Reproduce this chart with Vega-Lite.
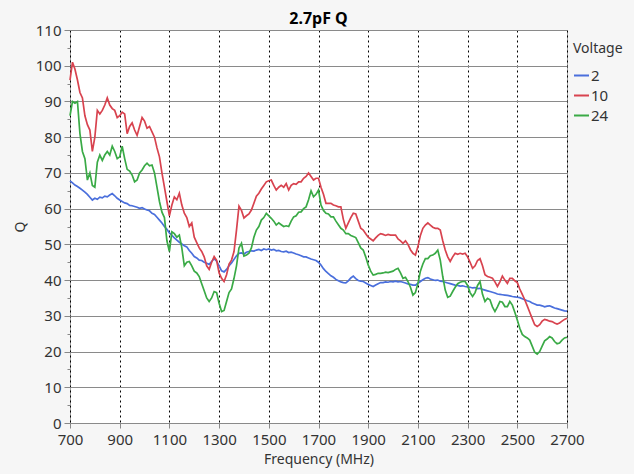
{
"$schema":"https://vega.github.io/schema/vega-lite/v6.json",
"width":497,"height":393,
"autosize":{"type":"none"},
"padding":{"left":70,"top":30,"right":67,"bottom":51},
"background":"#f6f6f6",
"title":{"text":"2.7pF Q","fontSize":16,"fontWeight":"bold","color":"#000000","offset":-4,"anchor":"middle","font":"Noto Sans"},
"data":{"values":[
{"f":700,"V":"2","Q":67.8},{"f":710,"V":"2","Q":67.2},{"f":720,"V":"2","Q":66.6},{"f":730,"V":"2","Q":66.2},{"f":740,"V":"2","Q":65.7},{"f":750,"V":"2","Q":65.2},{"f":760,"V":"2","Q":64.6},{"f":770,"V":"2","Q":64.0},{"f":780,"V":"2","Q":63.2},{"f":790,"V":"2","Q":62.4},
{"f":800,"V":"2","Q":62.9},{"f":810,"V":"2","Q":62.6},{"f":820,"V":"2","Q":63.2},{"f":830,"V":"2","Q":63.0},{"f":840,"V":"2","Q":63.5},{"f":850,"V":"2","Q":63.3},{"f":860,"V":"2","Q":63.8},{"f":870,"V":"2","Q":64.2},{"f":880,"V":"2","Q":63.6},{"f":890,"V":"2","Q":62.9},
{"f":900,"V":"2","Q":62.4},{"f":910,"V":"2","Q":62.0},{"f":920,"V":"2","Q":61.6},{"f":930,"V":"2","Q":61.4},{"f":940,"V":"2","Q":60.9},{"f":950,"V":"2","Q":60.8},{"f":960,"V":"2","Q":60.6},{"f":970,"V":"2","Q":60.4},{"f":980,"V":"2","Q":60.1},{"f":990,"V":"2","Q":60.3},
{"f":1000,"V":"2","Q":59.9},{"f":1010,"V":"2","Q":59.6},{"f":1020,"V":"2","Q":59.4},{"f":1030,"V":"2","Q":58.7},{"f":1040,"V":"2","Q":58.4},{"f":1050,"V":"2","Q":57.6},{"f":1060,"V":"2","Q":56.8},{"f":1070,"V":"2","Q":56.0},{"f":1080,"V":"2","Q":55.0},{"f":1090,"V":"2","Q":54.2},
{"f":1100,"V":"2","Q":53.2},{"f":1110,"V":"2","Q":52.5},{"f":1120,"V":"2","Q":51.8},{"f":1130,"V":"2","Q":51.2},{"f":1140,"V":"2","Q":50.6},{"f":1150,"V":"2","Q":50.1},{"f":1160,"V":"2","Q":49.6},{"f":1170,"V":"2","Q":49.3},{"f":1180,"V":"2","Q":48.3},{"f":1190,"V":"2","Q":47.5},
{"f":1200,"V":"2","Q":46.6},{"f":1210,"V":"2","Q":46.2},{"f":1220,"V":"2","Q":45.6},{"f":1230,"V":"2","Q":45.5},{"f":1240,"V":"2","Q":45.0},{"f":1250,"V":"2","Q":44.7},{"f":1260,"V":"2","Q":44.4},{"f":1270,"V":"2","Q":45.2},{"f":1280,"V":"2","Q":46.0},{"f":1290,"V":"2","Q":45.3},
{"f":1300,"V":"2","Q":44.0},{"f":1310,"V":"2","Q":42.6},{"f":1320,"V":"2","Q":42.3},{"f":1330,"V":"2","Q":43.0},{"f":1340,"V":"2","Q":44.0},{"f":1350,"V":"2","Q":44.8},{"f":1360,"V":"2","Q":45.8},{"f":1370,"V":"2","Q":46.8},{"f":1380,"V":"2","Q":47.5},{"f":1390,"V":"2","Q":47.6},
{"f":1400,"V":"2","Q":47.3},{"f":1410,"V":"2","Q":47.8},{"f":1420,"V":"2","Q":48.0},{"f":1430,"V":"2","Q":48.2},{"f":1440,"V":"2","Q":48.1},{"f":1450,"V":"2","Q":48.4},{"f":1460,"V":"2","Q":48.6},{"f":1470,"V":"2","Q":48.3},{"f":1480,"V":"2","Q":48.7},{"f":1490,"V":"2","Q":48.5},
{"f":1500,"V":"2","Q":48.7},{"f":1510,"V":"2","Q":48.4},{"f":1520,"V":"2","Q":48.6},{"f":1530,"V":"2","Q":48.2},{"f":1540,"V":"2","Q":48.3},{"f":1550,"V":"2","Q":48.0},{"f":1560,"V":"2","Q":47.9},{"f":1570,"V":"2","Q":48.1},{"f":1580,"V":"2","Q":47.7},{"f":1590,"V":"2","Q":47.8},
{"f":1600,"V":"2","Q":47.6},{"f":1610,"V":"2","Q":47.3},{"f":1620,"V":"2","Q":47.1},{"f":1630,"V":"2","Q":46.8},{"f":1640,"V":"2","Q":46.5},{"f":1650,"V":"2","Q":46.5},{"f":1660,"V":"2","Q":46.2},{"f":1670,"V":"2","Q":45.9},{"f":1680,"V":"2","Q":45.7},{"f":1690,"V":"2","Q":45.5},
{"f":1700,"V":"2","Q":45.0},{"f":1710,"V":"2","Q":44.2},{"f":1720,"V":"2","Q":43.2},{"f":1730,"V":"2","Q":42.4},{"f":1740,"V":"2","Q":41.8},{"f":1750,"V":"2","Q":41.2},{"f":1760,"V":"2","Q":40.8},{"f":1770,"V":"2","Q":40.2},{"f":1780,"V":"2","Q":39.8},{"f":1790,"V":"2","Q":39.5},
{"f":1800,"V":"2","Q":39.3},{"f":1810,"V":"2","Q":39.2},{"f":1820,"V":"2","Q":39.8},{"f":1830,"V":"2","Q":40.6},{"f":1840,"V":"2","Q":41.1},{"f":1850,"V":"2","Q":40.4},{"f":1860,"V":"2","Q":39.9},{"f":1870,"V":"2","Q":39.7},{"f":1880,"V":"2","Q":39.6},{"f":1890,"V":"2","Q":39.2},
{"f":1900,"V":"2","Q":38.8},{"f":1910,"V":"2","Q":38.5},{"f":1920,"V":"2","Q":38.2},{"f":1930,"V":"2","Q":38.6},{"f":1940,"V":"2","Q":39.0},{"f":1950,"V":"2","Q":39.3},{"f":1960,"V":"2","Q":39.3},{"f":1970,"V":"2","Q":39.5},{"f":1980,"V":"2","Q":39.4},{"f":1990,"V":"2","Q":39.6},
{"f":2000,"V":"2","Q":39.5},{"f":2010,"V":"2","Q":39.7},{"f":2020,"V":"2","Q":39.5},{"f":2030,"V":"2","Q":39.6},{"f":2040,"V":"2","Q":39.4},{"f":2050,"V":"2","Q":39.2},{"f":2060,"V":"2","Q":38.9},{"f":2070,"V":"2","Q":38.8},{"f":2080,"V":"2","Q":38.6},{"f":2090,"V":"2","Q":38.6},
{"f":2100,"V":"2","Q":39.1},{"f":2110,"V":"2","Q":39.6},{"f":2120,"V":"2","Q":40.1},{"f":2130,"V":"2","Q":40.5},{"f":2140,"V":"2","Q":40.7},{"f":2150,"V":"2","Q":40.3},{"f":2160,"V":"2","Q":40.1},{"f":2170,"V":"2","Q":39.9},{"f":2180,"V":"2","Q":40.0},{"f":2190,"V":"2","Q":39.7},
{"f":2200,"V":"2","Q":39.6},{"f":2210,"V":"2","Q":39.4},{"f":2220,"V":"2","Q":39.2},{"f":2230,"V":"2","Q":39.0},{"f":2240,"V":"2","Q":38.8},{"f":2250,"V":"2","Q":38.6},{"f":2260,"V":"2","Q":38.5},{"f":2270,"V":"2","Q":38.3},{"f":2280,"V":"2","Q":38.4},{"f":2290,"V":"2","Q":38.2},
{"f":2300,"V":"2","Q":38.1},{"f":2310,"V":"2","Q":38.0},{"f":2320,"V":"2","Q":37.8},{"f":2330,"V":"2","Q":37.9},{"f":2340,"V":"2","Q":37.6},{"f":2350,"V":"2","Q":37.7},{"f":2360,"V":"2","Q":37.4},{"f":2370,"V":"2","Q":37.2},{"f":2380,"V":"2","Q":37.0},{"f":2390,"V":"2","Q":36.8},
{"f":2400,"V":"2","Q":36.6},{"f":2410,"V":"2","Q":36.4},{"f":2420,"V":"2","Q":36.1},{"f":2430,"V":"2","Q":36.0},{"f":2440,"V":"2","Q":35.9},{"f":2450,"V":"2","Q":35.8},{"f":2460,"V":"2","Q":35.7},{"f":2470,"V":"2","Q":35.6},{"f":2480,"V":"2","Q":35.4},{"f":2490,"V":"2","Q":35.3},
{"f":2500,"V":"2","Q":35.2},{"f":2510,"V":"2","Q":35.1},{"f":2520,"V":"2","Q":34.8},{"f":2530,"V":"2","Q":34.5},{"f":2540,"V":"2","Q":34.2},{"f":2550,"V":"2","Q":34.0},{"f":2560,"V":"2","Q":33.6},{"f":2570,"V":"2","Q":33.3},{"f":2580,"V":"2","Q":33.0},{"f":2590,"V":"2","Q":33.0},
{"f":2600,"V":"2","Q":32.8},{"f":2610,"V":"2","Q":32.5},{"f":2620,"V":"2","Q":32.7},{"f":2630,"V":"2","Q":32.8},{"f":2640,"V":"2","Q":32.5},{"f":2650,"V":"2","Q":32.2},{"f":2660,"V":"2","Q":32.0},{"f":2670,"V":"2","Q":31.8},{"f":2680,"V":"2","Q":31.6},{"f":2690,"V":"2","Q":31.4},{"f":2700,"V":"2","Q":31.3},
{"f":700,"V":"10","Q":96},{"f":710,"V":"10","Q":101},{"f":720,"V":"10","Q":99},{"f":730,"V":"10","Q":96},{"f":740,"V":"10","Q":92.5},{"f":750,"V":"10","Q":91},{"f":760,"V":"10","Q":86},{"f":770,"V":"10","Q":83.5},{"f":780,"V":"10","Q":82},{"f":790,"V":"10","Q":76},
{"f":800,"V":"10","Q":80},{"f":810,"V":"10","Q":87.5},{"f":820,"V":"10","Q":86.5},{"f":830,"V":"10","Q":87.5},{"f":840,"V":"10","Q":89},{"f":850,"V":"10","Q":91},{"f":860,"V":"10","Q":89},{"f":870,"V":"10","Q":88},{"f":880,"V":"10","Q":87.5},{"f":890,"V":"10","Q":85.5},
{"f":900,"V":"10","Q":86},{"f":910,"V":"10","Q":87},{"f":920,"V":"10","Q":86.5},{"f":930,"V":"10","Q":81},{"f":940,"V":"10","Q":83},{"f":950,"V":"10","Q":84},{"f":960,"V":"10","Q":82},{"f":970,"V":"10","Q":80.5},{"f":980,"V":"10","Q":83},{"f":990,"V":"10","Q":85.5},
{"f":1000,"V":"10","Q":84.5},{"f":1010,"V":"10","Q":82.5},{"f":1020,"V":"10","Q":83},{"f":1030,"V":"10","Q":81.5},{"f":1040,"V":"10","Q":80},{"f":1050,"V":"10","Q":77},{"f":1060,"V":"10","Q":74.5},{"f":1070,"V":"10","Q":70},{"f":1080,"V":"10","Q":66},{"f":1090,"V":"10","Q":62},
{"f":1100,"V":"10","Q":58},{"f":1110,"V":"10","Q":61},{"f":1120,"V":"10","Q":63.3},{"f":1130,"V":"10","Q":62.5},{"f":1140,"V":"10","Q":64.3},{"f":1150,"V":"10","Q":61},{"f":1160,"V":"10","Q":58.7},{"f":1170,"V":"10","Q":57.5},{"f":1180,"V":"10","Q":55},{"f":1190,"V":"10","Q":56},
{"f":1200,"V":"10","Q":52},{"f":1210,"V":"10","Q":50.5},{"f":1220,"V":"10","Q":49},{"f":1230,"V":"10","Q":48},{"f":1240,"V":"10","Q":46.5},{"f":1250,"V":"10","Q":44},{"f":1260,"V":"10","Q":43},{"f":1270,"V":"10","Q":45},{"f":1280,"V":"10","Q":46.6},{"f":1290,"V":"10","Q":45.5},
{"f":1300,"V":"10","Q":42},{"f":1310,"V":"10","Q":40.5},{"f":1320,"V":"10","Q":39.6},{"f":1330,"V":"10","Q":41.5},{"f":1340,"V":"10","Q":44.5},{"f":1350,"V":"10","Q":45.6},{"f":1360,"V":"10","Q":48},{"f":1370,"V":"10","Q":54},{"f":1380,"V":"10","Q":60.7},{"f":1390,"V":"10","Q":59.5},
{"f":1400,"V":"10","Q":57.4},{"f":1410,"V":"10","Q":58},{"f":1420,"V":"10","Q":58.5},{"f":1430,"V":"10","Q":59.6},{"f":1440,"V":"10","Q":61.5},{"f":1450,"V":"10","Q":63.5},{"f":1460,"V":"10","Q":64.3},{"f":1470,"V":"10","Q":65.5},{"f":1480,"V":"10","Q":66.5},{"f":1490,"V":"10","Q":67.5},
{"f":1500,"V":"10","Q":67.8},{"f":1510,"V":"10","Q":68},{"f":1520,"V":"10","Q":66.5},{"f":1530,"V":"10","Q":65.2},{"f":1540,"V":"10","Q":66},{"f":1550,"V":"10","Q":66.5},{"f":1560,"V":"10","Q":66},{"f":1570,"V":"10","Q":67},{"f":1580,"V":"10","Q":65.2},{"f":1590,"V":"10","Q":66.5},
{"f":1600,"V":"10","Q":67},{"f":1610,"V":"10","Q":66.8},{"f":1620,"V":"10","Q":67.5},{"f":1630,"V":"10","Q":67.5},{"f":1640,"V":"10","Q":68.5},{"f":1650,"V":"10","Q":69},{"f":1660,"V":"10","Q":70},{"f":1670,"V":"10","Q":69},{"f":1680,"V":"10","Q":68},{"f":1690,"V":"10","Q":68.5},
{"f":1700,"V":"10","Q":68.5},{"f":1710,"V":"10","Q":66},{"f":1720,"V":"10","Q":64},{"f":1730,"V":"10","Q":61.5},{"f":1740,"V":"10","Q":61.5},{"f":1750,"V":"10","Q":61.5},{"f":1760,"V":"10","Q":61},{"f":1770,"V":"10","Q":60.8},{"f":1780,"V":"10","Q":60.5},{"f":1790,"V":"10","Q":60.5},
{"f":1800,"V":"10","Q":57},{"f":1810,"V":"10","Q":54.5},{"f":1820,"V":"10","Q":56},{"f":1830,"V":"10","Q":57.5},{"f":1840,"V":"10","Q":58.7},{"f":1850,"V":"10","Q":58.5},{"f":1860,"V":"10","Q":56.5},{"f":1870,"V":"10","Q":54.5},{"f":1880,"V":"10","Q":54},{"f":1890,"V":"10","Q":53},
{"f":1900,"V":"10","Q":52},{"f":1910,"V":"10","Q":51.5},{"f":1920,"V":"10","Q":51},{"f":1930,"V":"10","Q":51.8},{"f":1940,"V":"10","Q":52.5},{"f":1950,"V":"10","Q":53},{"f":1960,"V":"10","Q":52.8},{"f":1970,"V":"10","Q":52.5},{"f":1980,"V":"10","Q":52.8},{"f":1990,"V":"10","Q":52.6},
{"f":2000,"V":"10","Q":52.6},{"f":2010,"V":"10","Q":52.6},{"f":2020,"V":"10","Q":51.5},{"f":2030,"V":"10","Q":51},{"f":2040,"V":"10","Q":50.3},{"f":2050,"V":"10","Q":51},{"f":2060,"V":"10","Q":50},{"f":2070,"V":"10","Q":48.5},{"f":2080,"V":"10","Q":47.5},{"f":2090,"V":"10","Q":47},
{"f":2100,"V":"10","Q":49.3},{"f":2110,"V":"10","Q":52.5},{"f":2120,"V":"10","Q":54.5},{"f":2130,"V":"10","Q":55.4},{"f":2140,"V":"10","Q":56},{"f":2150,"V":"10","Q":55.4},{"f":2160,"V":"10","Q":54.8},{"f":2170,"V":"10","Q":54.5},{"f":2180,"V":"10","Q":54.5},{"f":2190,"V":"10","Q":54},
{"f":2200,"V":"10","Q":51},{"f":2210,"V":"10","Q":48.4},{"f":2220,"V":"10","Q":46.5},{"f":2230,"V":"10","Q":45.2},{"f":2240,"V":"10","Q":46.5},{"f":2250,"V":"10","Q":47.5},{"f":2260,"V":"10","Q":47.2},{"f":2270,"V":"10","Q":47.5},{"f":2280,"V":"10","Q":47.3},{"f":2290,"V":"10","Q":47.5},
{"f":2300,"V":"10","Q":46.5},{"f":2310,"V":"10","Q":45},{"f":2320,"V":"10","Q":43.3},{"f":2330,"V":"10","Q":44},{"f":2340,"V":"10","Q":45.5},{"f":2350,"V":"10","Q":46},{"f":2360,"V":"10","Q":44},{"f":2370,"V":"10","Q":41.5},{"f":2380,"V":"10","Q":41},{"f":2390,"V":"10","Q":40.8},
{"f":2400,"V":"10","Q":40.5},{"f":2410,"V":"10","Q":39.5},{"f":2420,"V":"10","Q":38.2},{"f":2430,"V":"10","Q":39.5},{"f":2440,"V":"10","Q":41.1},{"f":2450,"V":"10","Q":40},{"f":2460,"V":"10","Q":39.1},{"f":2470,"V":"10","Q":40.5},{"f":2480,"V":"10","Q":40.5},{"f":2490,"V":"10","Q":39.8},
{"f":2500,"V":"10","Q":39.3},{"f":2510,"V":"10","Q":37.5},{"f":2520,"V":"10","Q":36},{"f":2530,"V":"10","Q":34.5},{"f":2540,"V":"10","Q":32.8},{"f":2550,"V":"10","Q":31},{"f":2560,"V":"10","Q":29.2},{"f":2570,"V":"10","Q":27.5},{"f":2580,"V":"10","Q":27},{"f":2590,"V":"10","Q":27.5},
{"f":2600,"V":"10","Q":28.5},{"f":2610,"V":"10","Q":29},{"f":2620,"V":"10","Q":28.8},{"f":2630,"V":"10","Q":28.5},{"f":2640,"V":"10","Q":28.4},{"f":2650,"V":"10","Q":28},{"f":2660,"V":"10","Q":27.7},{"f":2670,"V":"10","Q":28},{"f":2680,"V":"10","Q":28.5},{"f":2690,"V":"10","Q":29},{"f":2700,"V":"10","Q":29.3},
{"f":700,"V":"24","Q":86},{"f":710,"V":"24","Q":90},{"f":720,"V":"24","Q":89.5},{"f":730,"V":"24","Q":90},{"f":740,"V":"24","Q":81},{"f":750,"V":"24","Q":76},{"f":760,"V":"24","Q":74},{"f":770,"V":"24","Q":68},{"f":780,"V":"24","Q":70},{"f":790,"V":"24","Q":66.5},
{"f":800,"V":"24","Q":66},{"f":810,"V":"24","Q":73},{"f":820,"V":"24","Q":75},{"f":830,"V":"24","Q":73.5},{"f":840,"V":"24","Q":75},{"f":850,"V":"24","Q":76},{"f":860,"V":"24","Q":75},{"f":870,"V":"24","Q":77.5},{"f":880,"V":"24","Q":76},{"f":890,"V":"24","Q":74},
{"f":900,"V":"24","Q":74.5},{"f":910,"V":"24","Q":77.5},{"f":920,"V":"24","Q":74},{"f":930,"V":"24","Q":71},{"f":940,"V":"24","Q":70.5},{"f":950,"V":"24","Q":69.4},{"f":960,"V":"24","Q":67.5},{"f":970,"V":"24","Q":68},{"f":980,"V":"24","Q":70},{"f":990,"V":"24","Q":70.8},
{"f":1000,"V":"24","Q":72},{"f":1010,"V":"24","Q":72.7},{"f":1020,"V":"24","Q":72},{"f":1030,"V":"24","Q":72.2},{"f":1040,"V":"24","Q":70},{"f":1050,"V":"24","Q":66},{"f":1060,"V":"24","Q":62},{"f":1070,"V":"24","Q":59},{"f":1080,"V":"24","Q":57.5},{"f":1090,"V":"24","Q":51},
{"f":1100,"V":"24","Q":48},{"f":1110,"V":"24","Q":53.5},{"f":1120,"V":"24","Q":53},{"f":1130,"V":"24","Q":52},{"f":1140,"V":"24","Q":52.6},{"f":1150,"V":"24","Q":49},{"f":1160,"V":"24","Q":44},{"f":1170,"V":"24","Q":45},{"f":1180,"V":"24","Q":45.2},{"f":1190,"V":"24","Q":44},
{"f":1200,"V":"24","Q":42.5},{"f":1210,"V":"24","Q":42},{"f":1220,"V":"24","Q":41},{"f":1230,"V":"24","Q":39},{"f":1240,"V":"24","Q":37},{"f":1250,"V":"24","Q":35},{"f":1260,"V":"24","Q":34},{"f":1270,"V":"24","Q":35},{"f":1280,"V":"24","Q":36.8},{"f":1290,"V":"24","Q":36.5},
{"f":1300,"V":"24","Q":33.5},{"f":1310,"V":"24","Q":31.2},{"f":1320,"V":"24","Q":31.5},{"f":1330,"V":"24","Q":34},{"f":1340,"V":"24","Q":36.5},{"f":1350,"V":"24","Q":37.5},{"f":1360,"V":"24","Q":40.5},{"f":1370,"V":"24","Q":44},{"f":1380,"V":"24","Q":49},{"f":1390,"V":"24","Q":50.3},
{"f":1400,"V":"24","Q":46.7},{"f":1410,"V":"24","Q":47},{"f":1420,"V":"24","Q":47.5},{"f":1430,"V":"24","Q":49},{"f":1440,"V":"24","Q":52},{"f":1450,"V":"24","Q":54},{"f":1460,"V":"24","Q":55},{"f":1470,"V":"24","Q":56.8},{"f":1480,"V":"24","Q":57.5},{"f":1490,"V":"24","Q":58.7},
{"f":1500,"V":"24","Q":58},{"f":1510,"V":"24","Q":57.3},{"f":1520,"V":"24","Q":56.5},{"f":1530,"V":"24","Q":55.4},{"f":1540,"V":"24","Q":56},{"f":1550,"V":"24","Q":55.5},{"f":1560,"V":"24","Q":55},{"f":1570,"V":"24","Q":55.2},{"f":1580,"V":"24","Q":55},{"f":1590,"V":"24","Q":56.5},
{"f":1600,"V":"24","Q":57.7},{"f":1610,"V":"24","Q":58},{"f":1620,"V":"24","Q":59},{"f":1630,"V":"24","Q":59.1},{"f":1640,"V":"24","Q":60},{"f":1650,"V":"24","Q":60.5},{"f":1660,"V":"24","Q":62.5},{"f":1670,"V":"24","Q":65},{"f":1680,"V":"24","Q":63.3},{"f":1690,"V":"24","Q":64},
{"f":1700,"V":"24","Q":65.2},{"f":1710,"V":"24","Q":61},{"f":1720,"V":"24","Q":59.5},{"f":1730,"V":"24","Q":58.7},{"f":1740,"V":"24","Q":58.5},{"f":1750,"V":"24","Q":57.7},{"f":1760,"V":"24","Q":57.7},{"f":1770,"V":"24","Q":56.5},{"f":1780,"V":"24","Q":55.5},{"f":1790,"V":"24","Q":54.5},
{"f":1800,"V":"24","Q":54},{"f":1810,"V":"24","Q":53},{"f":1820,"V":"24","Q":53},{"f":1830,"V":"24","Q":52.5},{"f":1840,"V":"24","Q":52.2},{"f":1850,"V":"24","Q":51.9},{"f":1860,"V":"24","Q":50.5},{"f":1870,"V":"24","Q":49},{"f":1880,"V":"24","Q":48.4},{"f":1890,"V":"24","Q":46.5},
{"f":1900,"V":"24","Q":44.2},{"f":1910,"V":"24","Q":42.5},{"f":1920,"V":"24","Q":41.4},{"f":1930,"V":"24","Q":41.6},{"f":1940,"V":"24","Q":41.9},{"f":1950,"V":"24","Q":41.9},{"f":1960,"V":"24","Q":42},{"f":1970,"V":"24","Q":42.2},{"f":1980,"V":"24","Q":42.1},{"f":1990,"V":"24","Q":42.3},
{"f":2000,"V":"24","Q":42.5},{"f":2010,"V":"24","Q":43},{"f":2020,"V":"24","Q":43.3},{"f":2030,"V":"24","Q":42},{"f":2040,"V":"24","Q":40.5},{"f":2050,"V":"24","Q":40.8},{"f":2060,"V":"24","Q":39.6},{"f":2070,"V":"24","Q":38},{"f":2080,"V":"24","Q":35.8},{"f":2090,"V":"24","Q":36.5},
{"f":2100,"V":"24","Q":39},{"f":2110,"V":"24","Q":42.5},{"f":2120,"V":"24","Q":44.5},{"f":2130,"V":"24","Q":46},{"f":2140,"V":"24","Q":46},{"f":2150,"V":"24","Q":46.8},{"f":2160,"V":"24","Q":47},{"f":2170,"V":"24","Q":47.5},{"f":2180,"V":"24","Q":48.4},{"f":2190,"V":"24","Q":45.6},
{"f":2200,"V":"24","Q":41},{"f":2210,"V":"24","Q":37.2},{"f":2220,"V":"24","Q":35.2},{"f":2230,"V":"24","Q":35.5},{"f":2240,"V":"24","Q":36.8},{"f":2250,"V":"24","Q":38},{"f":2260,"V":"24","Q":39},{"f":2270,"V":"24","Q":39.4},{"f":2280,"V":"24","Q":39.6},{"f":2290,"V":"24","Q":39.6},
{"f":2300,"V":"24","Q":38.5},{"f":2310,"V":"24","Q":36.5},{"f":2320,"V":"24","Q":35.4},{"f":2330,"V":"24","Q":36.5},{"f":2340,"V":"24","Q":38.5},{"f":2350,"V":"24","Q":39.6},{"f":2360,"V":"24","Q":36},{"f":2370,"V":"24","Q":34},{"f":2380,"V":"24","Q":34.9},{"f":2390,"V":"24","Q":34.5},
{"f":2400,"V":"24","Q":32.5},{"f":2410,"V":"24","Q":31.2},{"f":2420,"V":"24","Q":32.5},{"f":2430,"V":"24","Q":34},{"f":2440,"V":"24","Q":33.8},{"f":2450,"V":"24","Q":32.6},{"f":2460,"V":"24","Q":32.6},{"f":2470,"V":"24","Q":34},{"f":2480,"V":"24","Q":33},{"f":2490,"V":"24","Q":31},
{"f":2500,"V":"24","Q":28.8},{"f":2510,"V":"24","Q":26.5},{"f":2520,"V":"24","Q":24.8},{"f":2530,"V":"24","Q":24.2},{"f":2540,"V":"24","Q":23.8},{"f":2550,"V":"24","Q":23.2},{"f":2560,"V":"24","Q":21.5},{"f":2570,"V":"24","Q":19.8},{"f":2580,"V":"24","Q":19.3},{"f":2590,"V":"24","Q":20},
{"f":2600,"V":"24","Q":21.5},{"f":2610,"V":"24","Q":23},{"f":2620,"V":"24","Q":23.5},{"f":2630,"V":"24","Q":24.2},{"f":2640,"V":"24","Q":23.8},{"f":2650,"V":"24","Q":22.8},{"f":2660,"V":"24","Q":22.2},{"f":2670,"V":"24","Q":22.4},{"f":2680,"V":"24","Q":23.2},{"f":2690,"V":"24","Q":23.8},{"f":2700,"V":"24","Q":24}
]},
"mark":{"type":"line","strokeWidth":1.7,"interpolate":"linear"},
"encoding":{
"x":{"field":"f","type":"quantitative","title":"Frequency (MHz)",
 "scale":{"domain":[700,2700],"nice":false,"zero":false},
 "axis":{"values":[700,900,1100,1300,1500,1700,1900,2100,2300,2500,2700],"format":"d","labelOverlap":false,"labelFlush":false,"labelBound":false,"grid":true,"gridColor":"#000000","gridDash":[2,3],"gridWidth":1,"domain":false,"tickColor":"#888888","tickSize":5,"labelFontSize":15,"labelColor":"#333333","labelPadding":4,"titleFontSize":14,"titleFontWeight":"normal","titleColor":"#333333","titlePadding":5,"labelFont":"Noto Sans","titleFont":"Noto Sans"}},
"y":{"field":"Q","type":"quantitative","title":"Q",
 "scale":{"domain":[0,110],"nice":false},
 "axis":{"values":[0,5,10,15,20,25,30,35,40,45,50,55,60,65,70,75,80,85,90,95,100,105,110],
  "labelExpr":"datum.value % 10 === 0 ? datum.label : ''",
  "labelOverlap":false,
  "grid":true,"gridColor":"#8a8a8a","gridWidth":1,
  "gridOpacity":{"condition":{"test":"datum.value % 10 !== 0","value":0},"value":1},
  "tickSize":{"condition":{"test":"datum.value % 10 !== 0","value":3},"value":6},
  "domain":false,"tickColor":"#888888","labelFontSize":15,"labelColor":"#333333","labelPadding":3,"titleFontSize":14,"titleFontWeight":"normal","titleColor":"#333333","titlePadding":8,"labelFont":"Noto Sans","titleFont":"Noto Sans"}},
"color":{"field":"V","type":"nominal","title":"Voltage",
 "scale":{"domain":["2","10","24"],"range":["#4a6fdc","#d8434f","#3aaa46"]},
 "legend":{"orient":"right","offset":-10,"padding":12,"symbolType":"stroke","symbolSize":225,"symbolStrokeWidth":2,"rowPadding":3,"labelFontSize":15,"labelColor":"#333333","titleFontSize":14,"titleFontWeight":"normal","titleColor":"#333333","labelFont":"Noto Sans","titleFont":"Noto Sans","titlePadding":11,"labelOffset":1}}
},
"config":{"view":{"fill":"white","stroke":"#a0a0a0","strokeWidth":1}}
}
